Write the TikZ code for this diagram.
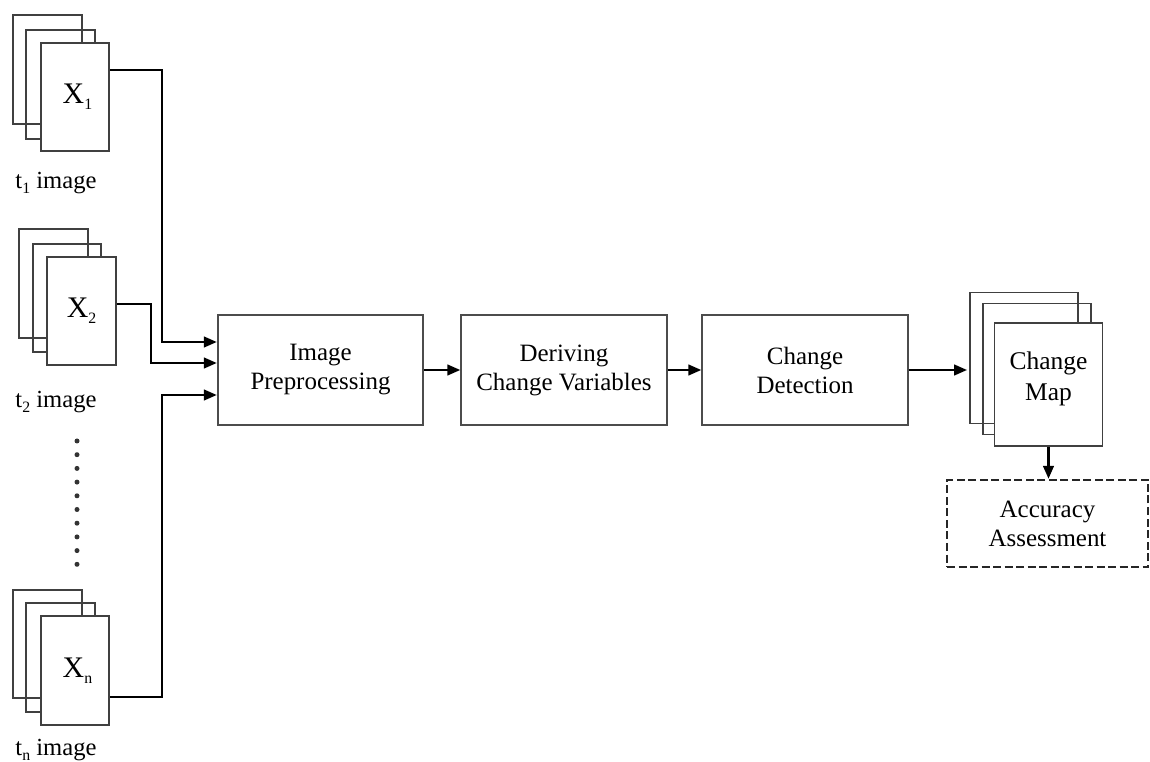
\documentclass[tikz,border=0pt]{standalone}
\usepackage{fontspec}
\setmainfont{Liberation Serif}
\usetikzlibrary{arrows.meta,positioning}
\newcommand{\lowsub}[1]{\raisebox{-0.45ex}{\fontsize{9}{9}\selectfont #1}}

\begin{document}
\begin{tikzpicture}[
    x=0.2mm, y=-0.2mm,
    sheet/.style={draw=black!75, line width=1pt, minimum width=13.7mm, minimum height=21.7mm, inner sep=0pt},
    frontsheet/.style={sheet, fill=white, font=\fontsize{17}{20}\selectfont},
    mapsheet/.style={draw=black!75, line width=1pt, minimum width=21.6mm, minimum height=26.2mm, inner sep=0pt},
    box/.style={draw=black!70, line width=1pt, align=center, minimum width=41.1mm, minimum height=21.9mm, font=\fontsize{14.2}{16.5}\selectfont},
    assess/.style={box, draw=black!85, dash pattern=on 1.6mm off 0.7mm, line width=1.3pt, minimum width=40.2mm, minimum height=17.4mm},
    lbl/.style={font=\fontsize{14}{16}\selectfont},
    arr/.style={-{Triangle[length=2.6mm,width=2.1mm]}, line width=1.5pt}
]
\useasboundingbox (0,0) rectangle (1150,762);

% input image stacks
\node[sheet] (back1) at (47.5,69.5) {};
\node[sheet] (mid1) at (60.5,84.5) {};
\node[frontsheet] (img1) at (75,97) {\,X\lowsub{1}};
\node[lbl] (t1) at (56,183) {t\lowsub{1} image};

\node[sheet] (back2) at (53.5,283.5) {};
\node[sheet] (mid2) at (67,298) {};
\node[frontsheet] (img2) at (81.5,311) {X\lowsub{2}};
\node[lbl] (t2) at (56,402) {t\lowsub{2} image};

\foreach \i in {0,...,9}
    \fill[black!80] (77,441+13.7*\i) circle (0.5mm);

\node[sheet] (backn) at (47.5,644) {};
\node[sheet] (midn) at (60.5,657.5) {};
\node[frontsheet] (imgn) at (75,670.5) {\,X\lowsub{n}};
\node[lbl] (tn) at (56,750) {t\lowsub{n} image};

% processing chain
\node[box] (pre) at (320.5,370) {Image\\Preprocessing};
\node[box] (der) at (564,370) {Deriving\\Change Variables};
\node[box] (det) at (805,370) {Change\\Detection};

% change map stack
\node[mapsheet] (map1) at (1024,358) {};
\node[mapsheet] (map2) at (1037,369) {};
\node[mapsheet, fill=white, minimum height=24.6mm] (map3) at (1048.5,384.5) {};
\node[align=center, font=\fontsize{14.5}{17.5}\selectfont] (maptext) at (1048.5,379) {Change\\Map};
\node[assess] (acc) at (1047.5,523.5) {Accuracy\\Assessment};

\draw[arr] ([yshift=5.4mm]img1.east) -| ([xshift=-11mm,yshift=5.6mm]pre.west) -- ([yshift=5.6mm]pre.west);
\draw[arr] ([yshift=1.4mm]img2.east) -| ([xshift=-13.2mm,yshift=1.4mm]pre.west) -- ([yshift=1.4mm]pre.west);
\draw[arr] ([yshift=-5.3mm]imgn.east) -| ([xshift=-11mm,yshift=-5mm]pre.west) -- ([yshift=-5mm]pre.west);
\draw[arr] (pre.east) -- (der.west);
\draw[arr] (der.east) -- (det.west);
\draw[arr] (det.east) -- ([xshift=-0.4mm]map1.west |- det.east);
\draw[arr] (map3.south) -- (map3.south |- acc.north);
\end{tikzpicture}
\end{document}
